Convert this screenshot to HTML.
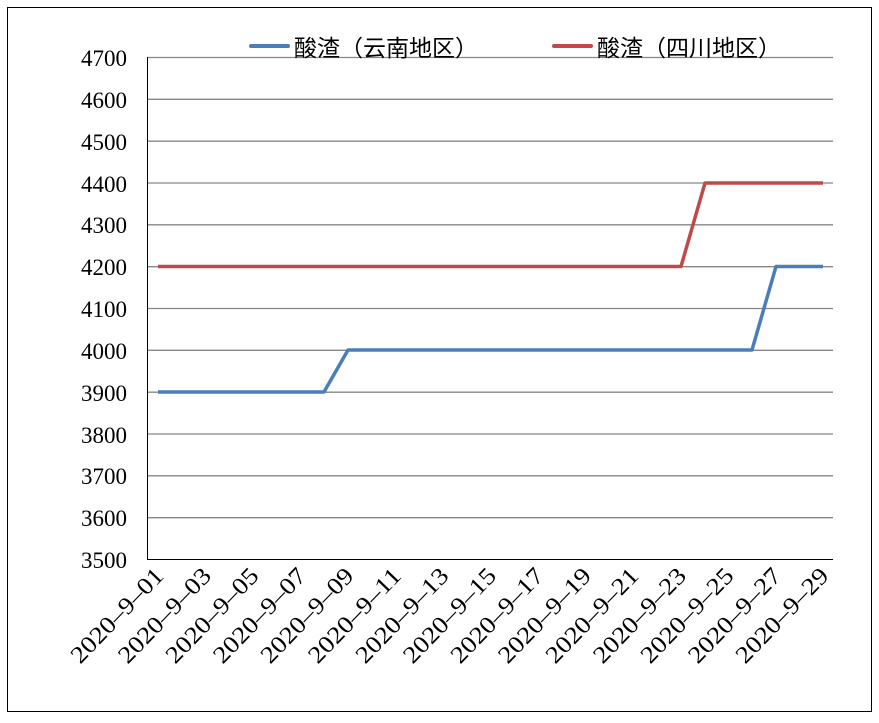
<!DOCTYPE html>
<html><head><meta charset="utf-8"><style>body{margin:0;background:#fff}</style></head><body>
<svg width="879" height="718" xmlns="http://www.w3.org/2000/svg" font-family="'Liberation Serif','Noto Serif CJK SC',serif">
<rect x="0" y="0" width="879" height="718" fill="#fff"/>
<rect x="7.5" y="7.5" width="864" height="704" fill="none" stroke="#000" stroke-width="1"/>
<g stroke="#868686" stroke-width="1.3">
<line x1="147" x2="833" y1="57.5" y2="57.5"/><line x1="147" x2="833" y1="99.3" y2="99.3"/><line x1="147" x2="833" y1="141.2" y2="141.2"/><line x1="147" x2="833" y1="183" y2="183"/><line x1="147" x2="833" y1="224.8" y2="224.8"/><line x1="147" x2="833" y1="266.7" y2="266.7"/><line x1="147" x2="833" y1="308.5" y2="308.5"/><line x1="147" x2="833" y1="350.3" y2="350.3"/><line x1="147" x2="833" y1="392.2" y2="392.2"/><line x1="147" x2="833" y1="434" y2="434"/><line x1="147" x2="833" y1="475.8" y2="475.8"/><line x1="147" x2="833" y1="517.7" y2="517.7"/>
</g>
<line x1="147" x2="833" y1="559.5" y2="559.5" stroke="#000" stroke-width="1"/>
<line x1="147.5" x2="147.5" y1="57" y2="560" stroke="#000" stroke-width="1"/>
<g font-size="23" text-anchor="end" fill="#000">
<text x="127" y="66">4700</text><text x="127" y="108">4600</text><text x="127" y="150">4500</text><text x="127" y="192">4400</text><text x="127" y="233">4300</text><text x="127" y="275">4200</text><text x="127" y="317">4100</text><text x="127" y="359">4000</text><text x="127" y="401">3900</text><text x="127" y="443">3800</text><text x="127" y="484">3700</text><text x="127" y="526">3600</text><text x="127" y="568">3500</text>
</g>
<g font-size="24" text-anchor="end" fill="#000">
<text transform="translate(165,577) rotate(-46)" textLength="122" lengthAdjust="spacingAndGlyphs">2020–9–01</text>
<text transform="translate(212.5,577) rotate(-46)" textLength="122" lengthAdjust="spacingAndGlyphs">2020–9–03</text>
<text transform="translate(260,577) rotate(-46)" textLength="122" lengthAdjust="spacingAndGlyphs">2020–9–05</text>
<text transform="translate(307.5,577) rotate(-46)" textLength="122" lengthAdjust="spacingAndGlyphs">2020–9–07</text>
<text transform="translate(355,577) rotate(-46)" textLength="122" lengthAdjust="spacingAndGlyphs">2020–9–09</text>
<text transform="translate(402.5,577) rotate(-46)" textLength="122" lengthAdjust="spacingAndGlyphs">2020–9–11</text>
<text transform="translate(450,577) rotate(-46)" textLength="122" lengthAdjust="spacingAndGlyphs">2020–9–13</text>
<text transform="translate(497.5,577) rotate(-46)" textLength="122" lengthAdjust="spacingAndGlyphs">2020–9–15</text>
<text transform="translate(545,577) rotate(-46)" textLength="122" lengthAdjust="spacingAndGlyphs">2020–9–17</text>
<text transform="translate(592.5,577) rotate(-46)" textLength="122" lengthAdjust="spacingAndGlyphs">2020–9–19</text>
<text transform="translate(640,577) rotate(-46)" textLength="122" lengthAdjust="spacingAndGlyphs">2020–9–21</text>
<text transform="translate(687.5,577) rotate(-46)" textLength="122" lengthAdjust="spacingAndGlyphs">2020–9–23</text>
<text transform="translate(735,577) rotate(-46)" textLength="122" lengthAdjust="spacingAndGlyphs">2020–9–25</text>
<text transform="translate(782.5,577) rotate(-46)" textLength="122" lengthAdjust="spacingAndGlyphs">2020–9–27</text>
<text transform="translate(830,577) rotate(-46)" textLength="122" lengthAdjust="spacingAndGlyphs">2020–9–29</text>
</g>
<polyline fill="none" stroke="#4a7ebb" stroke-width="3.5" stroke-linejoin="round" points="158,392 324,392 348,350 752,350 776,266.5 823,266.5"/>
<polyline fill="none" stroke="#be4b48" stroke-width="3.5" stroke-linejoin="round" points="158,266.5 681,266.5 705,183 823,183"/>
<line x1="251" x2="288" y1="46" y2="46" stroke="#4a7ebb" stroke-width="4" stroke-linecap="round"/>
<line x1="554" x2="591" y1="46" y2="46" stroke="#be4b48" stroke-width="4" stroke-linecap="round"/>
<g font-size="23" fill="#000" font-family="'Liberation Sans','Noto Sans CJK SC',sans-serif">
<text x="294" y="56" textLength="184">酸渣（云南地区）</text>
<text x="597" y="56" textLength="184">酸渣（四川地区）</text>
</g>
</svg>
</body></html>
